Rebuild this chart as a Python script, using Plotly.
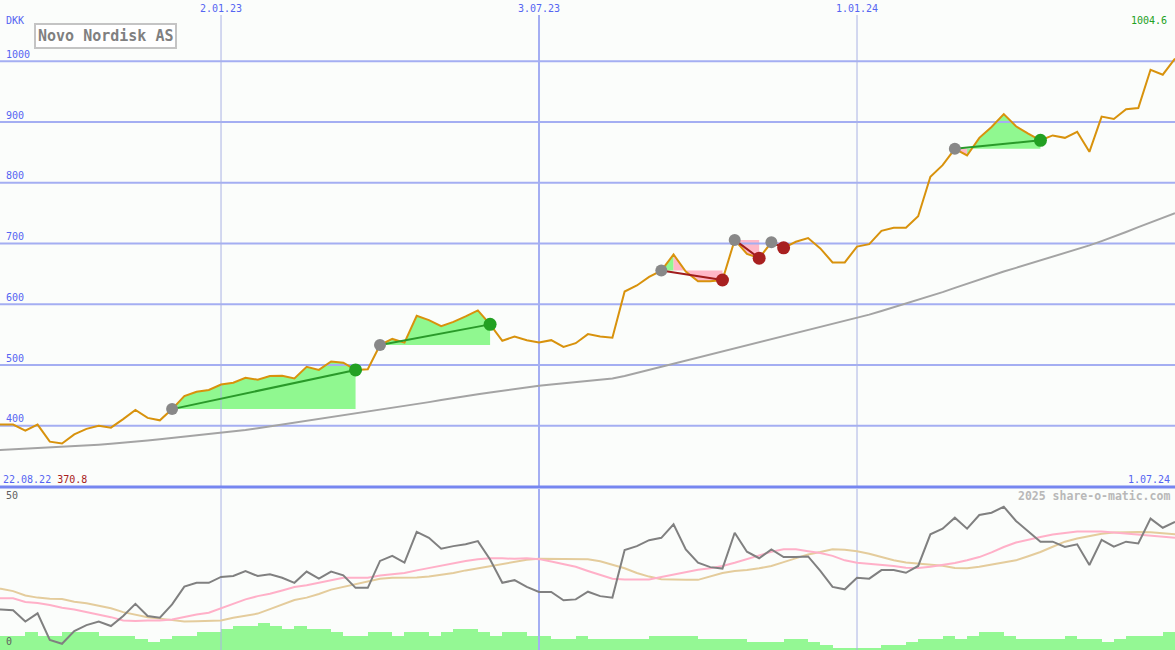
import pandas as pd
import plotly.graph_objects as go

# ---------------- data ----------------
DATES = pd.date_range("2022-08-22", "2024-07-01", freq="7D")

PRICE = [402, 402, 402, 392, 402, 374, 370.8, 386, 395, 400,
         397, 411, 426, 413, 409, 427.5, 449, 456, 459, 468,
         471, 479, 476, 482, 482.5, 478, 497, 492, 506, 504,
         492, 493, 533, 543, 537, 581, 574, 564, 571, 580,
         590, 567, 540, 547, 541, 537, 541, 530, 536, 551,
         547, 545, 621, 631, 645, 655.5, 682, 654, 638, 638,
         640, 706, 683, 676, 702, 693, 703, 709, 692, 669,
         669, 695, 699, 721, 726, 726, 745, 810, 829, 856,
         845, 874, 892, 913, 893, 881, 870, 878, 874, 884,
         851, 909, 905, 921, 923, 986, 978, 1004.6]

MA_LONG = [359, 360, 361, 362, 363, 364, 365, 366, 367.5, 369,
           370.5, 372, 374, 376, 378, 380, 382, 384, 386, 388,
           390.5, 393, 396, 399, 402, 405, 408, 411, 414, 417,
           420, 423, 426, 429, 432, 435.5, 439, 442.5, 446, 449,
           452, 455, 458, 460.5, 463, 466, 468, 470, 472, 474,
           476, 478, 482, 487, 492, 497, 502, 507, 512, 517,
           522, 527, 532, 537.5, 543, 548, 553, 558, 563, 568,
           572.5, 578, 583, 589, 595, 601, 607, 613, 620, 627,
           634, 641, 648, 654, 660, 666, 672, 678, 684, 690,
           697, 704, 711, 719, 727, 735, 742, 750]

OSC = [13.6, 13.7, 13.4, 9.6, 12.4, 3.4, 2.1, 6.4, 8.4, 9.6,
       8.1, 11.5, 15.6, 11.5, 10.9, 15.4, 21.4, 22.7, 22.7, 24.7,
       25, 26.7, 25, 25.6, 24.4, 22.7, 26.5, 24.1, 26.5, 25.2,
       21, 21, 30.1, 31.8, 29.5, 39.9, 37.9, 34.2, 35.1, 35.7,
       36.8, 30.6, 22.7, 23.6, 21.3, 19.6, 19.6, 16.8, 17.1, 19.7,
       18.2, 17.7, 33.8, 35.1, 37.1, 37.9, 42.5, 34, 29.5, 28,
       27.5, 39.6, 33.2, 31, 34, 31.4, 31.4, 31.6, 26.7, 21.3,
       20.5, 24.4, 24.1, 27, 27, 26.1, 28.4, 39.1, 41, 44.7,
       41, 45.6, 46.4, 48.4, 43.6, 40.2, 36.6, 36.6, 34.8, 35.7,
       28.7, 37.2, 34.9, 36.6, 36, 44.4, 41.3, 43.3]

OSC_PINK = [17.5, 17.5, 17.5, 16.2, 15.9, 15.2, 14.3, 13.7, 12.9, 12,
            11.1, 10, 9.8, 10, 10, 10.3, 11.2, 12, 12.6, 14.1,
            15.4, 17.1, 18.2, 19, 20.1, 21.3, 21.9, 22.7, 23.5, 24.4,
            24.4, 24.4, 25.2, 25.5, 26, 26.9, 27.7, 28.6, 29.4, 30.1,
            30.7, 31, 31, 30.8, 31, 30.7, 29.9, 28.9, 28.1, 26.7,
            25.3, 24.1, 23.8, 23.8, 23.8, 24.7, 25.5, 26.5, 27.1, 27.6,
            28.4, 29.5, 30.7, 32.1, 33.2, 34, 34, 33.4, 32.8, 31.8,
            30.3, 29.5, 29.2, 28.9, 28.4, 27.8, 27.7, 28.1, 28.7, 29.4,
            30.3, 31.4, 33, 34.8, 36.3, 37.3, 38.2, 39, 39.5, 40,
            40, 40, 39.7, 39.3, 39.1, 38.7, 38.3, 37.9]

OSC_TAN = [20.8, 20.7, 19.9, 18.4, 17.7, 17.3, 17.2, 16.3, 15.8, 14.9,
           14.1, 12.8, 11.9, 11.1, 10.6, 10, 9.6, 9.7, 9.8, 10,
           10.9, 11.6, 12.3, 13.8, 15.3, 16.9, 17.7, 18.9, 20.4, 21.3,
           22.3, 23.2, 24.1, 24.4, 24.4, 24.5, 24.8, 25.4, 26, 26.9,
           27.6, 28.3, 29, 29.7, 30.5, 30.8, 30.8, 30.8, 30.8, 30.7,
           30, 28.7, 27.6, 26, 24.8, 23.9, 23.7, 23.7, 23.7, 24.9,
           26, 26.7, 27, 27.6, 28.4, 29.7, 31, 32.3, 33.1, 34,
           33.9, 33.4, 32.5, 31.5, 30.3, 29.6, 29.3, 28.8, 28.5, 27.7,
           27.6, 28.1, 28.9, 29.5, 30.3, 31.7, 33.1, 34.9, 36.6, 37.7,
           38.6, 39.3, 39.7, 39.9, 39.9, 39.8, 39.4, 39.1]

VOLUME = [4.7, 4.7, 4.7, 6.1, 4.7, 4.7, 6.1, 6.1, 6.1, 4.7,
          4.7, 4.7, 3.8, 2.8, 3.8, 4.7, 4.7, 6.1, 6.1, 7.2,
          8.1, 8.1, 9.1, 8.1, 7.2, 8.1, 7.2, 7.2, 6.1, 4.7,
          4.7, 6.1, 6.1, 4.7, 6.1, 6.1, 4.7, 6.1, 7.2, 7.2,
          6.1, 4.7, 6.1, 6.1, 4.7, 4.7, 3.8, 3.8, 4.7, 3.8,
          3.8, 3.8, 3.8, 3.8, 4.7, 4.7, 4.7, 4.7, 3.8, 3.8,
          3.8, 3.8, 2.8, 2.8, 2.8, 3.8, 3.8, 2.7, 1.7, 0.8,
          0.8, 0.8, 0.8, 1.7, 1.7, 2.7, 3.8, 3.8, 4.7, 3.8,
          4.7, 6.1, 6.1, 4.7, 3.8, 3.8, 3.8, 3.8, 4.7, 3.8,
          3.8, 2.8, 3.8, 4.7, 4.7, 4.7, 6.1, 6.1]

TRADE_ENTRY = [15, 32, 55, 61, 64, 79]
TRADE_EXIT = [30, 41, 60, 63, 65, 86]

PRICE_TICKS = [400, 500, 600, 700, 800, 900, 1000]
DATE_TICKS = ["2023-01-02", "2023-07-03", "2024-01-01"]
DATE_TICK_TEXT = ["2.01.23", "3.07.23", "1.01.24"]
DATE_TICK_WIDTH = [1, 2, 1]
OSC_TICKS = [0, 50]

# ---------------- style / layout ----------------
W, H = 1175, 650
BG = "#fbfdfb"
BLUE_TXT = "#5565f2"
GRID = "#a4aef2"
FONT = "DejaVu Sans Mono"

X_RANGE = [pd.Timestamp("2022-08-28 12:00"), pd.Timestamp("2024-07-01")]
TOP_PX = (0, 487)
BOT_PX = (489, 650)
TOP_RANGE = [299.3, 1100.9]
BOT_RANGE = [0, 54.4]


def top_val(py):
    return TOP_RANGE[1] - (py - TOP_PX[0]) / (TOP_PX[1] - TOP_PX[0]) * (TOP_RANGE[1] - TOP_RANGE[0])


def py_paper(py):
    return 1 - py / H


fig = go.Figure()

# --- trade fill areas (per-segment, coloured by segment end vs entry) ---
for e, x in zip(TRADE_ENTRY, TRADE_EXIT):
    lvl = PRICE[e]
    gx, gy, px_, py_ = [], [], [], []
    for j in range(e, x):
        xs = [DATES[j], DATES[j], DATES[j + 1], DATES[j + 1], DATES[j], None]
        ys = [lvl, PRICE[j], PRICE[j + 1], lvl, lvl, None]
        if PRICE[j + 1] >= lvl:
            gx += xs
            gy += ys
        else:
            px_ += xs
            py_ += ys
    for xs, ys, col in ((gx, gy, "#90f890"), (px_, py_, "#ffb8c8")):
        if xs:
            fig.add_trace(go.Scatter(x=xs, y=ys, mode="lines", fill="toself",
                                     fillcolor=col, line=dict(width=0, color=col),
                                     hoverinfo="skip", showlegend=False,
                                     xaxis="x", yaxis="y"))

# --- horizontal grid lines (top panel) ---
hx, hy = [], []
for v in PRICE_TICKS:
    hx += [X_RANGE[0], X_RANGE[1], None]
    hy += [v, v, None]
fig.add_trace(go.Scatter(x=hx, y=hy, mode="lines", line=dict(color=GRID, width=2),
                         hoverinfo="skip", showlegend=False, xaxis="x", yaxis="y"))

# --- vertical grid lines (both panels) ---
for d, w in zip(DATE_TICKS, DATE_TICK_WIDTH):
    col = GRID if w == 2 else "#aab2e4"
    fig.add_trace(go.Scatter(x=[d, d], y=[top_val(15), TOP_RANGE[0]], mode="lines",
                             line=dict(color=col, width=w), hoverinfo="skip",
                             showlegend=False, xaxis="x", yaxis="y"))
    fig.add_trace(go.Scatter(x=[d, d], y=BOT_RANGE, mode="lines",
                             line=dict(color=col, width=w), hoverinfo="skip",
                             showlegend=False, xaxis="x2", yaxis="y2"))

# --- long moving average ---
fig.add_trace(go.Scatter(x=DATES, y=MA_LONG, mode="lines",
                         line=dict(color="#a4a4a4", width=2),
                         showlegend=False, xaxis="x", yaxis="y"))

# --- price ---
fig.add_trace(go.Scatter(x=DATES, y=PRICE, mode="lines",
                         line=dict(color="#d8920c", width=2),
                         showlegend=False, xaxis="x", yaxis="y"))

# --- trade lines and markers ---
for e, x in zip(TRADE_ENTRY, TRADE_EXIT):
    win = PRICE[x] >= PRICE[e]
    lc = "#2a9a2a" if win else "#a01c1c"
    mc = "#22a022" if win else "#a82020"
    fig.add_trace(go.Scatter(x=[DATES[e], DATES[x]], y=[PRICE[e], PRICE[x]], mode="lines",
                             line=dict(color=lc, width=2), showlegend=False,
                             xaxis="x", yaxis="y"))
    fig.add_trace(go.Scatter(x=[DATES[e]], y=[PRICE[e]], mode="markers",
                             marker=dict(color="#888888", size=12, line=dict(width=0)),
                             showlegend=False, xaxis="x", yaxis="y"))
    fig.add_trace(go.Scatter(x=[DATES[x]], y=[PRICE[x]], mode="markers",
                             marker=dict(color=mc, size=13, line=dict(width=0)),
                             showlegend=False, xaxis="x", yaxis="y"))

# --- bottom panel: volume + oscillators ---
fig.add_trace(go.Bar(x=DATES, y=VOLUME, width=7 * 86400000, offset=0,
                     marker=dict(color="#94f894", line=dict(width=0)),
                     showlegend=False, xaxis="x2", yaxis="y2"))
fig.add_trace(go.Scatter(x=DATES, y=OSC_TAN, mode="lines",
                         line=dict(color="#e4cc9c", width=2),
                         showlegend=False, xaxis="x2", yaxis="y2"))
fig.add_trace(go.Scatter(x=DATES, y=OSC_PINK, mode="lines",
                         line=dict(color="#ffb0c8", width=2),
                         showlegend=False, xaxis="x2", yaxis="y2"))
fig.add_trace(go.Scatter(x=DATES, y=OSC, mode="lines",
                         line=dict(color="#808080", width=2),
                         showlegend=False, xaxis="x2", yaxis="y2"))

# ---------------- annotations ----------------
ann = []
small = dict(family=FONT, size=10, color=BLUE_TXT)
for v in PRICE_TICKS:
    ann.append(dict(x=4 / W, xref="paper", y=v, yref="y", yshift=7, text=str(v),
                    showarrow=False, xanchor="left", yanchor="middle", font=small))
for d, t in zip(DATE_TICKS, DATE_TICK_TEXT):
    ann.append(dict(x=d, xref="x", y=py_paper(8), yref="paper", text=t,
                    showarrow=False, xanchor="center", yanchor="middle", font=small))
ann.append(dict(x=4 / W, xref="paper", y=py_paper(20), yref="paper", text="DKK",
                showarrow=False, xanchor="left", yanchor="middle", font=small))
ann.append(dict(x=1 / W, xref="paper", y=py_paper(479), yref="paper",
                text="22.08.22 <span style='color:#a82020'>370.8</span>",
                showarrow=False, xanchor="left", yanchor="middle", font=small))
ann.append(dict(x=1172 / W, xref="paper", y=py_paper(479), yref="paper", text="1.07.24",
                showarrow=False, xanchor="right", yanchor="middle", font=small))
ann.append(dict(x=1169 / W, xref="paper", y=py_paper(21), yref="paper", text="1004.6",
                showarrow=False, xanchor="right", yanchor="middle",
                font=dict(family=FONT, size=10, color="#22a022")))
for v, pyv in zip(OSC_TICKS, [641, 495]):
    ann.append(dict(x=4 / W, xref="paper", y=py_paper(pyv), yref="paper", text=str(v),
                    showarrow=False, xanchor="left", yanchor="middle",
                    font=dict(family=FONT, size=10, color="#606060")))
ann.append(dict(x=1172 / W, xref="paper", y=py_paper(496), yref="paper",
                text="<b>2025 share-o-matic.com</b>", showarrow=False,
                xanchor="right", yanchor="middle",
                font=dict(family=FONT, size=11.5, color="#b8b8b8")))
ann.append(dict(x=105 / W, xref="paper", y=py_paper(36.5), yref="paper",
                text="<b>Novo Nordisk AS</b>", showarrow=False,
                xanchor="center", yanchor="middle", bgcolor="#ffffff",
                bordercolor="#c4c4c4", borderwidth=2, borderpad=2,
                font=dict(family=FONT, size=15, color="#808080")))

shapes = [dict(type="line", xref="paper", yref="paper", x0=0, x1=1,
               y0=py_paper(487), y1=py_paper(487), layer="above",
               line=dict(color="#7686f0", width=3))]

axis_common = dict(showgrid=False, zeroline=False, showticklabels=False, ticks="",
                   showline=False, fixedrange=True)
fig.update_layout(
    width=W, height=H, margin=dict(l=0, r=0, t=0, b=0),
    paper_bgcolor=BG, plot_bgcolor=BG, showlegend=False, bargap=0,
    xaxis=dict(domain=[0, 1], range=X_RANGE, type="date", anchor="y", **axis_common),
    yaxis=dict(domain=[1 - TOP_PX[1] / H, 1 - TOP_PX[0] / H], range=TOP_RANGE,
               anchor="x", **axis_common),
    xaxis2=dict(domain=[0, 1], range=X_RANGE, type="date", anchor="y2", **axis_common),
    yaxis2=dict(domain=[1 - BOT_PX[1] / H, 1 - BOT_PX[0] / H], range=BOT_RANGE,
                anchor="x2", **axis_common),
    annotations=ann, shapes=shapes,
)

fig.write_html("out.html", config={"displayModeBar": False},
               post_script="document.body.style.margin='0';document.body.style.overflow='hidden';")
